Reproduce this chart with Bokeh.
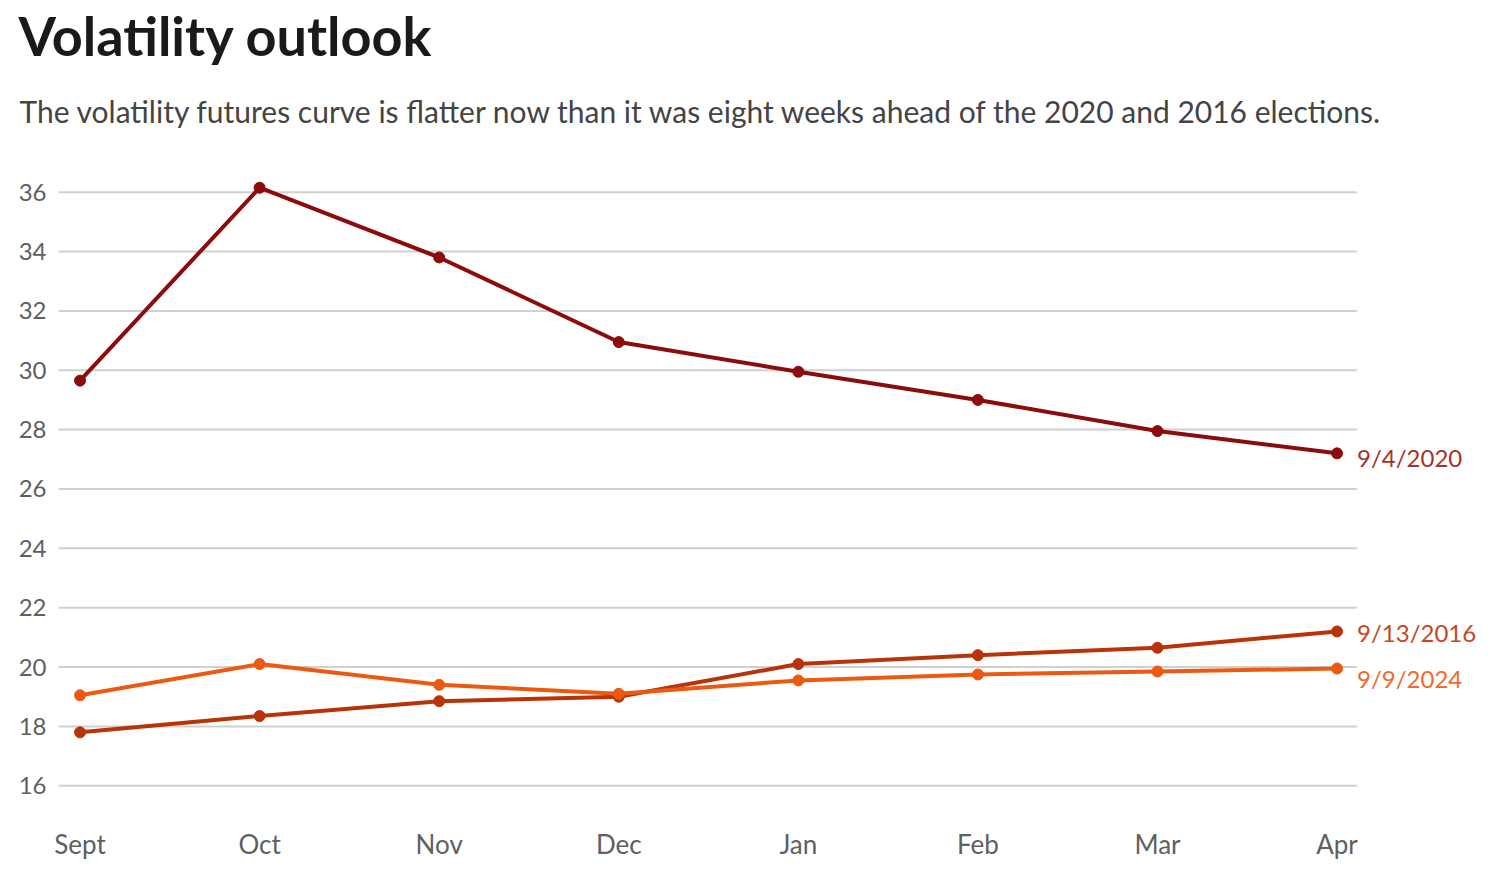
from bokeh.plotting import figure
from bokeh.models import FixedTicker, ColumnDataSource, Range1d, Title
from bokeh.core.properties import value
from bokeh.embed import file_html
from bokeh.resources import INLINE

months = ["Sept", "Oct", "Nov", "Dec", "Jan", "Feb", "Mar", "Apr"]
s2020 = [29.65, 36.15, 33.8, 30.95, 29.95, 29.0, 27.95, 27.2]
s2016 = [17.8, 18.35, 18.85, 19.0, 20.1, 20.4, 20.65, 21.2]
s2024 = [19.05, 20.1, 19.4, 19.1, 19.55, 19.75, 19.85, 19.95]
y_ticks = [16, 18, 20, 22, 24, 26, 28, 30, 32, 34, 36]
labels = ["9/4/2020", "9/13/2016", "9/9/2024"]

line_colors = ["#8c0b0b", "#b8330a", "#ec5a12"]
label_colors = ["#a8302c", "#c8461e", "#ee6b2c"]
label_dy = [4, 1, 10]

FONT = "Lato"
W, H = 1500, 896
top, bottom, left = 162, 87, 58
x_lo, x_hi_grid = -0.12, 7.11
px_per_x = 179.57
x_hi = x_lo + (W - left) / px_per_x

p = figure(width=W, height=H, output_backend="svg", toolbar_location=None, title=None,
           x_range=Range1d(x_lo, x_hi), y_range=Range1d(15.2, 37.0),
           min_border_left=left, min_border_right=0,
           min_border_top=top, min_border_bottom=bottom)
p.outline_line_color = None
p.background_fill_color = "white"
p.border_fill_color = "white"

xs = list(range(len(months)))

# gridlines drawn as segments so they stop before the series labels
p.xgrid.grid_line_color = None
p.ygrid.grid_line_color = None
p.segment(x0=[x_lo] * len(y_ticks), x1=[x_hi_grid] * len(y_ticks), y0=y_ticks, y1=y_ticks,
          line_color="#d0d0d0", line_width=2)

p.yaxis.ticker = FixedTicker(ticks=y_ticks)
p.xaxis.ticker = FixedTicker(ticks=xs)
p.xaxis.major_label_overrides = {i: m for i, m in enumerate(months)}

for ax in (p.xaxis[0], p.yaxis[0]):
    ax.axis_line_color = None
    ax.major_tick_line_color = None
    ax.minor_tick_line_color = None
    ax.major_tick_out = 0
    ax.major_tick_in = 0
    ax.major_label_text_font = FONT
    ax.major_label_text_color = "#606060"
p.yaxis.major_label_text_font_size = "24px"
p.xaxis.major_label_text_font_size = "26px"
p.yaxis.major_label_standoff = 12
p.xaxis.major_label_standoff = 18

series = [s2020, s2016, s2024]
for name, vals, col, lcol, dy in zip(labels, series, line_colors, label_colors, label_dy):
    src = ColumnDataSource(dict(x=xs, y=vals))
    p.line("x", "y", source=src, line_color=col, line_width=4)
    p.scatter("x", "y", source=src, size=11, fill_color=col, line_color=col)
    p.text(x=[xs[-1]], y=[vals[-1]], text=[name], x_offset=20, y_offset=dy,
           text_baseline="middle", text_align="left",
           text_font=value(FONT), text_font_size="24px", text_color=lcol)

spacer = Title(text=" ", text_font_size="1px", standoff=8)
sub = Title(text="The volatility futures curve is flatter now than it was eight weeks ahead of the 2020 and 2016 elections.",
            text_font=FONT, text_font_size="30px", text_color="#444444",
            text_font_style="normal", align="left", offset=19 - left, standoff=46)
ttl = Title(text="Volatility outlook", text_font=FONT, text_font_style="bold",
            text_font_size="54px", text_color="#1a1a1a", align="left", offset=18 - left, standoff=0)
p.add_layout(spacer, "above")
p.add_layout(sub, "above")
p.add_layout(ttl, "above")

open("out.html", "w").write(file_html(p, INLINE))
